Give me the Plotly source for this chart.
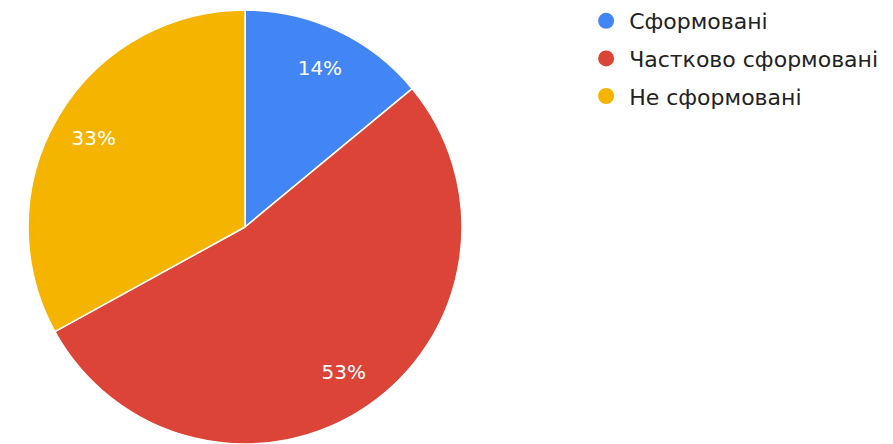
import plotly.graph_objects as go

labels = ["Сформовані", "Частково сформовані", "Не сформовані"]
values = [14, 53, 33]
colors = ["#4285f4", "#db4437", "#f4b400"]

FONT = "DejaVu Sans, Liberation Sans, Arial"
dom = dict(x=[0.0202, 0.5286], y=[0.0, 1.0])

fig = go.Figure()
fig.add_trace(go.Pie(
    labels=labels, values=values, sort=False, direction="clockwise", rotation=0,
    marker=dict(colors=colors, line=dict(color="white", width=1.5)),
    textinfo="none", domain=dom, showlegend=False, hoverinfo="label+percent",
))
# transparent ring carrying the percentage labels (placed at ~0.8 of the radius)
fig.add_trace(go.Pie(
    labels=labels, values=values, sort=False, direction="clockwise", rotation=0,
    hole=0.62,
    marker=dict(colors=["rgba(0,0,0,0)"] * 3, line=dict(width=0)),
    texttemplate="%{percent:.0%}", textinfo="percent",
    textposition="inside", insidetextorientation="horizontal",
    textfont=dict(color="white", size=20, family=FONT),
    domain=dom, showlegend=False, hoverinfo="skip",
))
for lab, col in zip(labels, colors):
    fig.add_trace(go.Scatter(
        x=[None], y=[None], mode="markers", name=lab, legendgroup=lab,
        marker=dict(symbol="circle", size=21, color=col), showlegend=True,
    ))

fig.update_layout(
    width=893, height=444, margin=dict(l=0, r=0, t=0, b=0),
    paper_bgcolor="white", plot_bgcolor="white",
    xaxis=dict(visible=False), yaxis=dict(visible=False),
    legend=dict(x=0.653, y=1.023, xanchor="left", yanchor="top",
                font=dict(size=22, color="#222222", family=FONT),
                tracegroupgap=6, itemwidth=36),
    font=dict(family=FONT),
)
fig.write_html("out.html", config={"displayModeBar": False},
               post_script="document.body.style.margin='0';")
